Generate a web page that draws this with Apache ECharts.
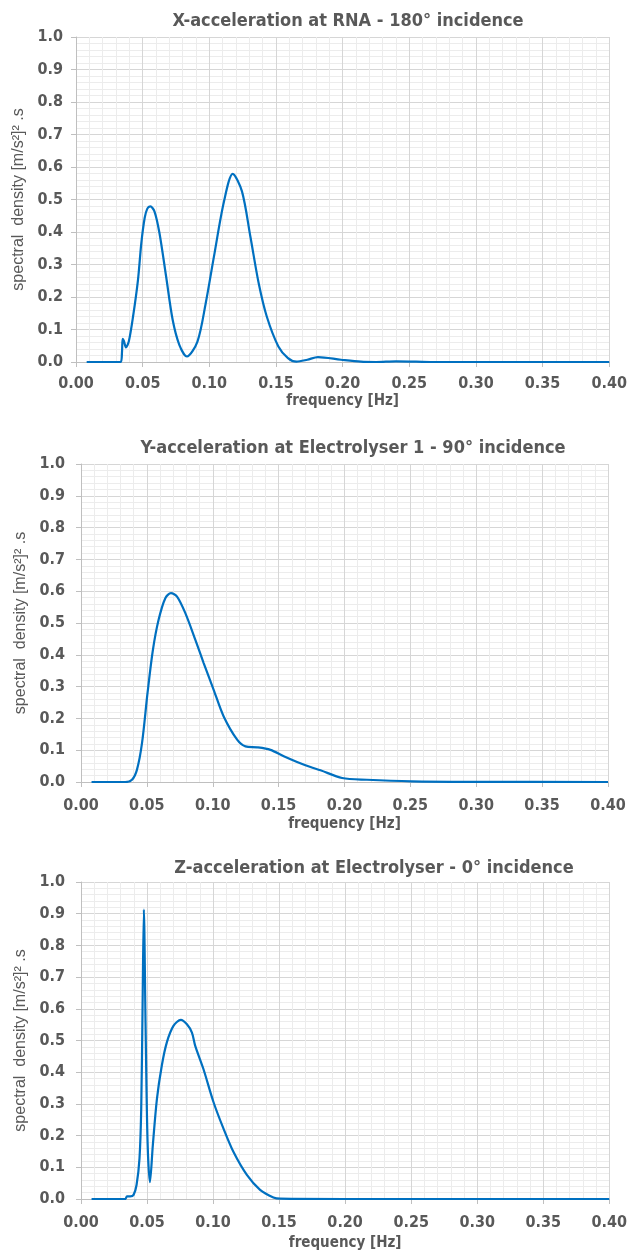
<!DOCTYPE html>
<html>
<head>
<meta charset="utf-8">
<script src="https://cdn.jsdelivr.net/npm/echarts@6/dist/echarts.min.js"></script>
<style>
  html, body { margin: 0; padding: 0; background: #fff; }
  #chart { width: 630px; height: 1252px; }
</style>
</head>
<body>
<div id="chart"></div>
<script>
// Panel titles
const panelTitles = [
  'X-acceleration at RNA - 180\u00b0 incidence',
  'Y-acceleration at Electrolyser 1 - 90\u00b0 incidence',
  'Z-acceleration at Electrolyser - 0\u00b0 incidence'
];
const xAxisTitle = 'frequency [Hz]';
const yAxisTitle = 'spectral  density [m/s\u00b2]\u00b2 .s';

// X-acceleration at RNA: [frequency Hz, spectral density]
const specX = [
  [0.008, 0], [0.020, 0], [0.0335, 0], [0.0345, 0.030], [0.0350, 0.071], [0.0360, 0.064],
  [0.0374, 0.045], [0.0396, 0.063], [0.0428, 0.140], [0.0465, 0.253], [0.0490, 0.366],
  [0.0515, 0.443], [0.0535, 0.472], [0.0557, 0.479], [0.0589, 0.463], [0.0626, 0.397],
  [0.0676, 0.263], [0.0725, 0.130], [0.0775, 0.053], [0.0832, 0.017], [0.0911, 0.063],
  [0.0973, 0.181], [0.1035, 0.325], [0.1110, 0.494], [0.1176, 0.579], [0.1245, 0.525],
  [0.1308, 0.386], [0.1370, 0.243], [0.1431, 0.140], [0.1518, 0.048], [0.1590, 0.012],
  [0.1654, 0.001], [0.1735, 0.007], [0.1815, 0.015], [0.1988, 0.007], [0.2137, 0.001],
  [0.2250, 0.000], [0.2400, 0.002], [0.2550, 0.001], [0.2700, 0.000], [0.4000, 0.000]
];

// Y-acceleration at Electrolyser 1
const specY = [
  [0.008, 0], [0.020, 0], [0.0336, 0], [0.0387, 0.007], [0.0425, 0.039], [0.0463, 0.122],
  [0.0505, 0.280], [0.0546, 0.416], [0.0589, 0.510], [0.0640, 0.578], [0.0683, 0.594],
  [0.0729, 0.583], [0.0792, 0.531], [0.0868, 0.447], [0.0931, 0.374], [0.1007, 0.290],
  [0.1083, 0.206], [0.1185, 0.133], [0.1248, 0.112], [0.1337, 0.109], [0.1438, 0.101],
  [0.1539, 0.081], [0.1640, 0.063], [0.1742, 0.047], [0.1818, 0.037], [0.1982, 0.0125],
  [0.2170, 0.007], [0.2510, 0.002], [0.3000, 0.0005], [0.4000, 0.000]
];

// Z-acceleration at Electrolyser
const specZ = [
  [0.008, 0], [0.020, 0], [0.0335, 0], [0.0348, 0.008], [0.0373, 0.008], [0.0398, 0.013],
  [0.0421, 0.045], [0.0443, 0.128], [0.0456, 0.285], [0.0466, 0.600], [0.0476, 0.913],
  [0.0489, 0.546], [0.0504, 0.181], [0.0522, 0.053], [0.0544, 0.170], [0.0575, 0.316],
  [0.0612, 0.421], [0.0650, 0.494], [0.0700, 0.546], [0.0756, 0.565], [0.0802, 0.551],
  [0.0840, 0.525], [0.0865, 0.483], [0.0927, 0.410], [0.1003, 0.306], [0.1079, 0.222],
  [0.1154, 0.149], [0.1256, 0.076], [0.1356, 0.029], [0.1457, 0.005], [0.1508, 0.001],
  [0.2000, 0.000], [0.4000, 0.000]
];

const seriesData = [specX, specY, specZ];

const FONT = "'DejaVu Sans Condensed', 'Liberation Sans', sans-serif";
const NAME_FONT = "'Liberation Sans', 'Open Sans', sans-serif";
const TEXT = '#595959';
const LINE = '#0070c0';

// plot rectangles for the three stacked panels
const grids = [
  { left: 76, right: 16, top: 37, height: 325 },
  { left: 81, right: 22, top: 464, height: 318 },
  { left: 81, right: 19, top: 882, height: 319 }
];
const yLabelMargin = [13, 16, 16];
const xLabelMargin = [14, 16, 16];
const xNameGap = [32, 35, 37];
const yNameGap = [44, 47, 47];
const titleTops = [7, 434, 854];
const titleCenters = [343, 348, 369];

const chart = echarts.init(document.getElementById('chart'), null, { renderer: 'canvas' });

const option = {
  animation: false,
  backgroundColor: '#fff',
  title: panelTitles.map((t, i) => ({
    text: t,
    left: titleCenters[i],
    textAlign: 'center',
    top: titleTops[i],
    textStyle: { fontFamily: FONT, fontSize: 18, fontWeight: 'bold', color: TEXT }
  })),
  grid: grids.map(g => Object.assign({ containLabel: false }, g)),
  xAxis: grids.map((g, i) => ({
    type: 'value',
    gridIndex: i,
    min: 0, max: 0.4, interval: 0.05,
    name: xAxisTitle,
    nameLocation: 'middle',
    nameGap: xNameGap[i],
    nameTextStyle: { fontFamily: FONT, fontSize: 15, fontWeight: 'bold', color: TEXT },
    axisLine: { show: true, lineStyle: { color: '#bfbfbf', width: 1 } },
    axisTick: { show: true, length: 5, lineStyle: { color: '#bfbfbf' } },
    axisLabel: {
      margin: xLabelMargin[i],
      fontFamily: FONT, fontSize: 16, fontWeight: 'bold', color: TEXT,
      formatter: v => v.toFixed(2)
    },
    splitLine: { show: true, lineStyle: { color: '#d6d6d6', width: 1 } },
    minorTick: { show: false, splitNumber: 5 },
    minorSplitLine: { show: true, lineStyle: { color: '#ececec', width: 1 } }
  })),
  yAxis: grids.map((g, i) => ({
    type: 'value',
    gridIndex: i,
    min: 0, max: 1, interval: 0.1,
    name: yAxisTitle,
    nameLocation: 'middle',
    nameGap: yNameGap[i],
    nameRotate: 90,
    nameTextStyle: { fontFamily: NAME_FONT, fontSize: 16, color: TEXT },
    axisLine: { show: true, lineStyle: { color: '#bfbfbf', width: 1 } },
    axisTick: { show: true, length: 5, lineStyle: { color: '#bfbfbf' } },
    axisLabel: {
      margin: yLabelMargin[i],
      fontFamily: FONT, fontSize: 16, fontWeight: 'bold', color: TEXT,
      formatter: v => v.toFixed(1)
    },
    splitLine: { show: true, lineStyle: { color: '#d6d6d6', width: 1 } },
    minorTick: { show: false, splitNumber: 5 },
    minorSplitLine: { show: true, lineStyle: { color: '#ececec', width: 1 } }
  })),
  series: seriesData.map((d, i) => ({
    type: 'line',
    xAxisIndex: i,
    yAxisIndex: i,
    data: d,
    smooth: 0.3,
    showSymbol: false,
    lineStyle: { color: LINE, width: 2.2 },
    itemStyle: { color: LINE }
  }))
};

chart.setOption(option);
</script>
</body>
</html>
